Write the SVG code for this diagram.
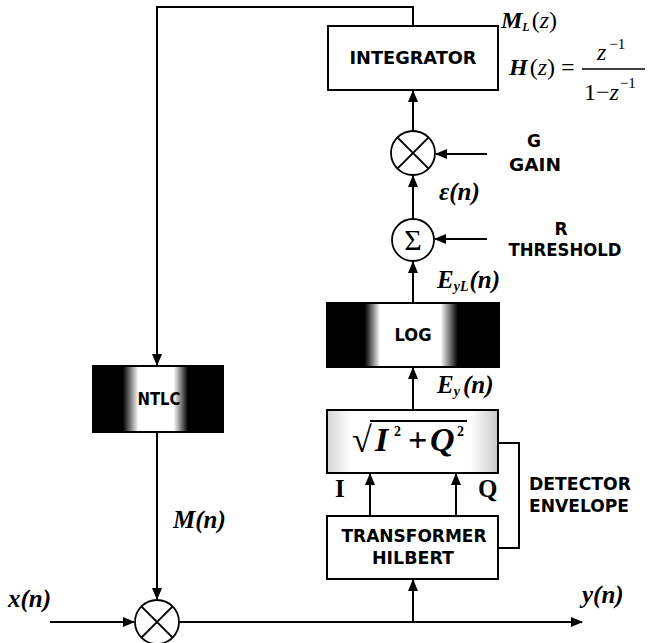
<svg xmlns="http://www.w3.org/2000/svg" width="648" height="643" viewBox="0 0 648 643">
<defs>
<style>
.ln{fill:none;stroke:#000;stroke-width:2}
.bx{stroke:#000;stroke-width:2}
.lb{font-family:"DejaVu Sans","Liberation Sans",sans-serif;font-weight:bold;font-size:17px;fill:#000;text-anchor:middle}
.m{font-family:"Liberation Serif","DejaVu Serif",serif;font-weight:bold;font-style:italic;fill:#000}
.r{font-family:"Liberation Serif","DejaVu Serif",serif;fill:#000}
.cir{fill:#fff;stroke:#000;stroke-width:1.8}
</style>
<marker id="ah" markerWidth="12" markerHeight="10" refX="11" refY="5" orient="auto" markerUnits="userSpaceOnUse">
<path d="M0,0 L12,5 L0,10 z" fill="#000"/>
</marker>
<linearGradient id="gLog" x1="0" y1="0" x2="1" y2="0">
<stop offset="0" stop-color="#000"/>
<stop offset="0.22" stop-color="#000"/>
<stop offset="0.31" stop-color="#fff"/>
<stop offset="0.66" stop-color="#fff"/>
<stop offset="0.76" stop-color="#000"/>
<stop offset="1" stop-color="#000"/>
</linearGradient>
<linearGradient id="gNt" x1="0" y1="0" x2="1" y2="0">
<stop offset="0" stop-color="#000"/>
<stop offset="0.23" stop-color="#000"/>
<stop offset="0.35" stop-color="#fff"/>
<stop offset="0.62" stop-color="#fff"/>
<stop offset="0.73" stop-color="#000"/>
<stop offset="1" stop-color="#000"/>
</linearGradient>
<linearGradient id="gSq" x1="0" y1="0" x2="1" y2="0">
<stop offset="0" stop-color="#d4d4d4"/>
<stop offset="0.14" stop-color="#fff"/>
<stop offset="0.84" stop-color="#fff"/>
<stop offset="1" stop-color="#c8c8c8"/>
</linearGradient>
</defs>
<rect width="648" height="643" fill="#fff"/>

<g id="connectors">
<path class="ln" d="M413,26 V7 H157 V365" marker-end="url(#ah)"/>
<path class="ln" d="M157,432 V599" marker-end="url(#ah)"/>
<path class="ln" d="M50,622 H134" marker-end="url(#ah)"/>
<path class="ln" d="M180,622 H582" marker-end="url(#ah)"/>
<path class="ln" d="M413,622 V580" marker-end="url(#ah)"/>
<path class="ln" d="M370,516 V474" marker-end="url(#ah)"/>
<path class="ln" d="M456,516 V474" marker-end="url(#ah)"/>
<path class="ln" d="M498,548 H519 V443 H498"/>
<path class="ln" d="M413,410 V368" marker-end="url(#ah)"/>
<path class="ln" d="M413,303 V262" marker-end="url(#ah)"/>
<path class="ln" d="M487,239 H435" marker-end="url(#ah)"/>
<path class="ln" d="M413,219 V176" marker-end="url(#ah)"/>
<path class="ln" d="M487,154 H436" marker-end="url(#ah)"/>
<path class="ln" d="M413,131 V91" marker-end="url(#ah)"/>
</g>

<g id="integrator">
<rect class="bx" x="328" y="26" width="170" height="64" fill="#fff"/>
<text class="lb" x="413" y="64" textLength="127" lengthAdjust="spacingAndGlyphs">INTEGRATOR</text>
</g>
<g id="ml-label">
<text class="m" x="501" y="28" style="font-size:24px">M<tspan style="font-size:12px" dy="3">L</tspan><tspan dy="-3" dx="2" style="font-weight:normal;font-style:normal">(</tspan><tspan style="font-weight:normal">z</tspan><tspan style="font-weight:normal;font-style:normal">)</tspan></text>
</g>
<g id="hz">
<text class="m" x="509" y="75" style="font-size:24px">H<tspan dx="2" style="font-weight:normal;font-style:normal">(</tspan><tspan style="font-weight:normal">z</tspan><tspan style="font-weight:normal;font-style:normal">) =</tspan></text>
<text class="r" x="597" y="60" style="font-size:24px"><tspan style="font-style:italic">z</tspan><tspan style="font-size:15px" dy="-11" dx="3">−1</tspan></text>
<line x1="582" y1="69" x2="645" y2="69" stroke="#000" stroke-width="1.3"/>
<text class="r" x="584" y="100" style="font-size:24px">1−<tspan style="font-style:italic">z</tspan><tspan style="font-size:15px" dy="-12" dx="1">−1</tspan></text>
</g>

<g id="mult-gain">
<circle class="cir" cx="413" cy="153" r="22"/>
<path class="ln" stroke-width="1.8" d="M397.4,137.4 L428.6,168.6 M428.6,137.4 L397.4,168.6"/>
</g>
<g id="gain-label">
<text class="lb" x="534" y="147">G</text>
<text class="lb" x="535" y="171" textLength="52" lengthAdjust="spacingAndGlyphs">GAIN</text>
</g>
<text class="m" x="439" y="200" style="font-size:25px">ε(n)</text>

<g id="sum">
<circle class="cir" cx="413" cy="240" r="21"/>
<text class="r" x="413" y="250" style="font-size:30px" text-anchor="middle">Σ</text>
</g>
<g id="threshold-label">
<text class="lb" x="561" y="235">R</text>
<text class="lb" x="565" y="256" textLength="113" lengthAdjust="spacingAndGlyphs">THRESHOLD</text>
</g>
<text class="m" x="437" y="288" style="font-size:25px">E<tspan style="font-size:14px" dy="3">yL</tspan><tspan dy="-3" dx="1">(n)</tspan></text>

<g id="log">
<rect class="bx" x="327" y="303" width="172" height="64" fill="url(#gLog)"/>
<text class="lb" x="413" y="341" textLength="37" lengthAdjust="spacingAndGlyphs">LOG</text>
</g>
<text class="m" x="437" y="393" style="font-size:25px">E<tspan style="font-size:14px" dy="3">y</tspan><tspan dy="-3" dx="3">(n)</tspan></text>

<g id="envelope">
<rect class="bx" x="327" y="410" width="171" height="63" fill="url(#gSq)"/>
<text class="r" x="352" y="452" style="font-size:36px">√</text>
<line x1="370" y1="421" x2="467" y2="421" stroke="#000" stroke-width="2"/>
<text class="m" x="375" y="451" style="font-size:34px">I</text>
<text class="r" x="394" y="436" style="font-size:14px;font-weight:bold">2</text>
<text class="r" x="408" y="451" style="font-size:34px;font-weight:bold">+</text>
<text class="m" x="430" y="451" style="font-size:34px">Q</text>
<text class="r" x="457" y="436" style="font-size:14px;font-weight:bold">2</text>
</g>
<text class="r" x="335" y="497" style="font-size:25px;font-weight:bold">I</text>
<text class="r" x="478" y="497" style="font-size:25px;font-weight:bold">Q</text>

<g id="hilbert">
<rect class="bx" x="327" y="516" width="171" height="63" fill="#fff"/>
<text class="lb" x="414" y="542" textLength="145" lengthAdjust="spacingAndGlyphs">TRANSFORMER</text>
<text class="lb" x="413" y="564" textLength="82" lengthAdjust="spacingAndGlyphs">HILBERT</text>
</g>
<g id="detector-label">
<text class="lb" x="580" y="490" textLength="102" lengthAdjust="spacingAndGlyphs">DETECTOR</text>
<text class="lb" x="579" y="512" textLength="100" lengthAdjust="spacingAndGlyphs">ENVELOPE</text>
</g>

<g id="ntlc">
<rect class="bx" x="93" y="366" width="130" height="66" fill="url(#gNt)"/>
<text class="lb" x="159" y="405" textLength="43" lengthAdjust="spacingAndGlyphs">NTLC</text>
</g>
<text class="m" x="173" y="528" style="font-size:25px">M(n)</text>

<g id="mult-in">
<circle class="cir" cx="157" cy="622" r="22"/>
<path class="ln" stroke-width="1.8" d="M141.4,606.4 L172.6,637.6 M172.6,606.4 L141.4,637.6"/>
</g>
<text class="m" x="8" y="607" style="font-size:25px">x(n)</text>
<text class="m" x="582" y="603" style="font-size:25px">y(n)</text>
</svg>
